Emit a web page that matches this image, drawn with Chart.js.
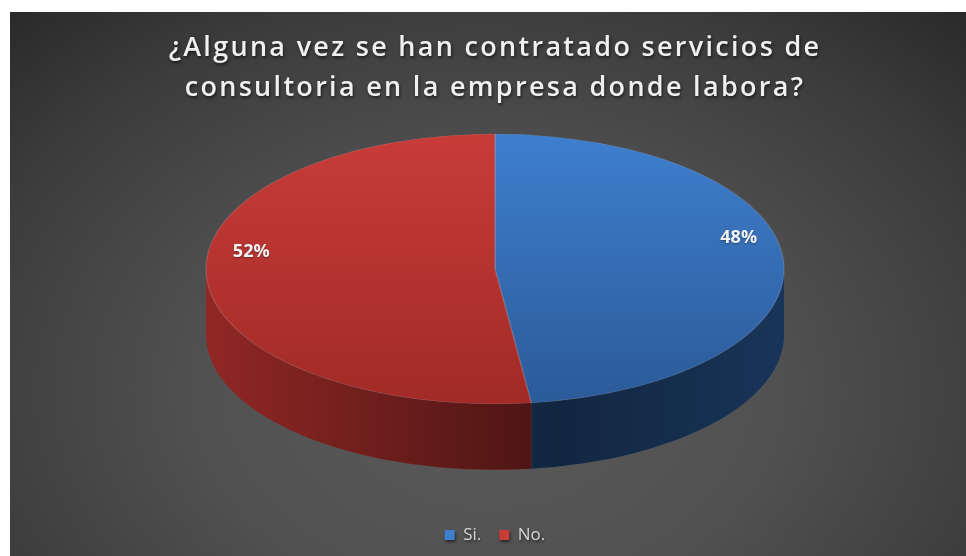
<!DOCTYPE html>
<html>
<head>
<meta charset="utf-8">
<script src="https://cdn.jsdelivr.net/npm/chart.js@4.4.0/dist/chart.umd.min.js"></script>
<style>
	html, body { margin: 0; padding: 0; background: #fff; overflow: hidden; }
	#wrap {
		position: absolute; left: 10px; top: 12px; width: 956px; height: 556px;
		background: radial-gradient(ellipse 75% 95% at 50% 68%, #5a5a5a 0%, #515151 40%, #3c3c3c 75%, #282828 100%);
	}
</style>
</head>
<body>
<div id="wrap"><canvas id="myChart"></canvas></div>
<script>
var categorias = ["Si.", "No."];
var porcentajes = [48, 52];
var colorArriba = ["#3e7fce", "#c83c38"];   // cara superior, parte de atrás
var colorAbajo = ["#2b5a98", "#a12a27"];    // cara superior, parte de adelante
var colorLado = ["#2a5a98", "#b0302d"];     // costado del cilindro
var titulo = ["¿Alguna vez se han contratado servicios de", "consultoria en la empresa donde labora?"];

// pastel en 3D: aplasta el pie de Chart.js en una elipse y le pone costado
var pie3d = {
	id: 'pie3d',
	afterInit: function(chart) {
		// la leyenda sin espaciado de letras
		var dibujar = chart.legend.draw;
		chart.legend.draw = function() {
			var ctx = chart.ctx;
			ctx.save();
			ctx.letterSpacing = '0px';
			dibujar.apply(this, arguments);
			ctx.restore();
		};
	},
	beforeDraw: function(chart, args, opts) {
		var ctx = chart.ctx;
		ctx.save();
		ctx.letterSpacing = opts.espaciado;
		ctx.shadowColor = 'rgba(0,0,0,0.55)';
		ctx.shadowOffsetX = 1;
		ctx.shadowOffsetY = 2;
		ctx.shadowBlur = 3;
	},
	beforeDatasetsDraw: function(chart, args, opts) {
		var ctx = chart.ctx;
		ctx.restore();
		var area = chart.chartArea;
		var arcs = chart.getDatasetMeta(0).data;
		var cx = arcs[0].x, cy = arcs[0].y, R = arcs[0].outerRadius;
		var rx = (area.right - area.left) * opts.ancho;
		var ry = rx * opts.inclinacion;
		var alto = rx * opts.alto;
		var top = area.top + ry;
		chart.$pie3d = {cx: cx, rx: rx, ry: ry, top: top};

		// costados (solo la mitad de adelante, ángulos 0..PI)
		arcs.forEach(function(arc, i) {
			[-2 * Math.PI, 0, 2 * Math.PI].forEach(function(k) {
				var a = Math.max(arc.startAngle + k, 0);
				var b = Math.min(arc.endAngle + k, Math.PI);
				if (b <= a) return;
				ctx.beginPath();
				ctx.ellipse(cx, top, rx, ry, 0, a, b);
				ctx.ellipse(cx, top + alto, rx, ry, 0, b, a, true);
				ctx.closePath();
				ctx.fillStyle = colorLado[i];
				ctx.fill();
				var g = ctx.createLinearGradient(cx - rx, 0, cx + rx, 0);
				g.addColorStop(0, 'rgba(0,0,0,0.18)');
				g.addColorStop(0.6, 'rgba(0,0,0,0.58)');
				g.addColorStop(1, 'rgba(0,0,0,0.42)');
				ctx.fillStyle = g;
				ctx.fill();
			});
		});

		ctx.save();
		ctx.translate(cx, top);
		ctx.scale(rx / R, ry / R);
		ctx.translate(-cx, -cy);
	},
	afterDatasetsDraw: function(chart, args, opts) {
		var ctx = chart.ctx;
		ctx.restore();
		var p = chart.$pie3d;
		var arcs = chart.getDatasetMeta(0).data;
		ctx.save();
		ctx.font = 'bold 18px "Open Sans"';
		ctx.fillStyle = '#f2f2f2';
		ctx.textAlign = 'center';
		ctx.textBaseline = 'middle';
		ctx.shadowColor = 'rgba(0,0,0,0.4)';
		ctx.shadowOffsetY = 1;
		ctx.shadowBlur = 2;
		arcs.forEach(function(arc, i) {
			var mid = (arc.startAngle + arc.endAngle) / 2;
			var x = p.cx + p.rx * opts.etiqueta * Math.cos(mid);
			var y = p.top + p.ry * (opts.etiqueta * Math.sin(mid) - opts.alzado);
			ctx.fillText(porcentajes[i] + '%', x, y);
		});
		ctx.restore();
	}
};

// degradado vertical de la cara superior (antes de aplastar el círculo)
function degradado(context) {
	var chart = context.chart;
	var i = context.dataIndex;
	var area = chart.chartArea;
	if (!area) return colorArriba[i];
	var g = chart.ctx.createLinearGradient(0, area.top, 0, area.bottom);
	g.addColorStop(0, colorArriba[i]);
	g.addColorStop(1, colorAbajo[i]);
	return g;
}

var ctx = document.getElementById("myChart").getContext('2d');
var myChart = new Chart(ctx, {
	type: 'pie',
	data: {
		labels: categorias,
		datasets: [{
			data: porcentajes,
			backgroundColor: degradado,
			borderColor: 'rgba(255,255,255,0.12)',
			borderWidth: 1,
			hoverOffset: 0
		}]
	},
	plugins: [pie3d],
	options: {
		responsive: true,
		maintainAspectRatio: false,
		animation: false,
		events: [],
		layout: {
			padding: {left: 14, top: 0, bottom: 14.5}
		},
		plugins: {
			pie3d: {
				ancho: 0.3068,
				inclinacion: 0.467,
				alto: 0.228,
				etiqueta: 0.845,
				alzado: 0.18,
				espaciado: '2.3px'
			},
			title: {
				display: true,
				text: titulo,
				color: '#f0f0f0',
				font: {family: '"Open Sans"', size: 27, weight: '600', lineHeight: 1.5},
				padding: {top: 15.75, bottom: 25.25}
			},
			legend: {
				position: 'bottom',
				fullSize: false,
				labels: {
					color: '#d6d6d6',
					font: {family: '"Open Sans"', size: 17},
					boxWidth: 10,
					boxHeight: 10,
					padding: 18,
					generateLabels: function(chart) {
						return categorias.map(function(c, i) {
							return {text: c, fillStyle: colorArriba[i], strokeStyle: colorArriba[i], lineWidth: 0, index: i, fontColor: '#d6d6d6'};
						});
					}
				}
			},
			tooltip: {enabled: false}
		}
	}
});
</script>
</body>
</html>
